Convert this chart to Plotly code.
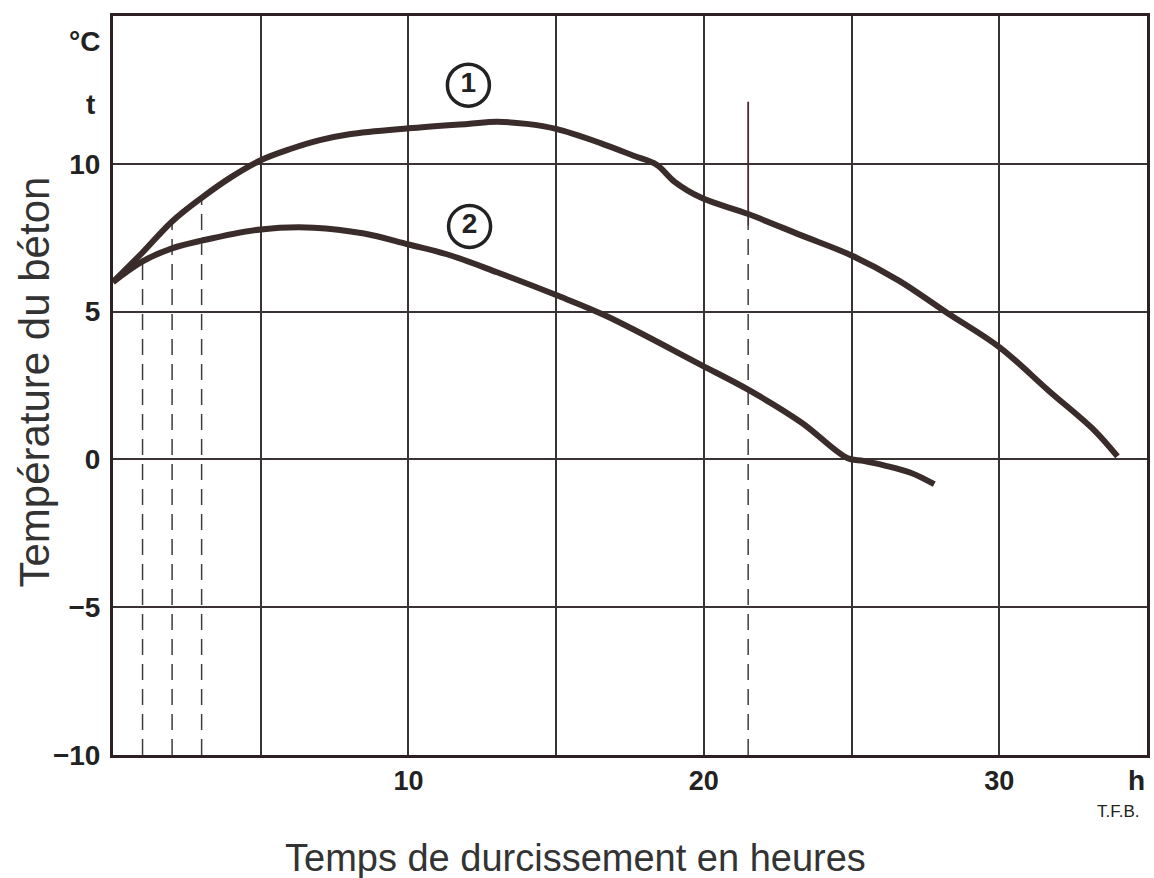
import plotly.graph_objects as go

# ---- data ----
curve1_x = [0, 1, 2, 3, 4, 5, 6, 7, 8, 10, 12, 13, 14, 15, 16.5, 17.6, 18.4, 19.0, 19.9, 21.5, 23.3, 25, 26.6, 28.2, 30, 31.7, 33.2, 34.0]
curve1_y = [6.0, 7.0, 8.05, 8.85, 9.55, 10.12, 10.5, 10.8, 11.0, 11.2, 11.35, 11.42, 11.35, 11.18, 10.7, 10.28, 9.97, 9.4, 8.86, 8.3, 7.58, 6.9, 6.05, 4.98, 3.8, 2.3, 1.0, 0.1]

curve2_x = [0, 1, 2, 3, 5, 6.8, 8.5, 10, 11.3, 13, 15, 16.7, 19.9, 21.5, 23.3, 24.85, 25.4, 26.1, 27.0, 27.8]
curve2_y = [6.0, 6.7, 7.14, 7.4, 7.78, 7.84, 7.64, 7.27, 6.94, 6.33, 5.56, 4.85, 3.2, 2.36, 1.25, 0.05, -0.05, -0.2, -0.45, -0.84]

guide_x = [1, 2, 3, 21.5]
guide_top = [6.75, 8.0, 8.75, 7.9]
marker_x = 21.5
marker_range = [7.9, 12.1]

label_x = [12.03, 12.07]
label_y = [12.66, 7.88]
label_text = ["1", "2"]

x_ticks = [0, 5, 10, 15, 20, 25, 30, 35]
x_ticktext = ["", "", "10", "", "20", "", "30", ""]
y_ticks = [-10, -5, 0, 5, 10]
y_ticktext = ["\u221210", "\u22125", "0", "5", "10"]

INK = "#3a2c2a"
GRID = "#3a3334"
FONT = "Liberation Sans"

fig = go.Figure()

# dashed guide lines
for gx, gt in zip(guide_x, guide_top):
    fig.add_trace(go.Scatter(x=[gx, gx], y=[-10, gt], mode="lines",
                             line=dict(color="#3d3d3d", width=1.5, dash="16px,9px"),
                             hoverinfo="skip", showlegend=False))
# solid marker part at 21.5 h
fig.add_trace(go.Scatter(x=[marker_x, marker_x], y=marker_range, mode="lines",
                         line=dict(color="#4a2a35", width=1.8),
                         hoverinfo="skip", showlegend=False))

# curves
fig.add_trace(go.Scatter(x=curve1_x, y=curve1_y, mode="lines",
                         line=dict(color=INK, width=6, shape="spline", smoothing=1.0),
                         showlegend=False, name="1"))
fig.add_trace(go.Scatter(x=curve2_x, y=curve2_y, mode="lines",
                         line=dict(color=INK, width=6, shape="spline", smoothing=1.0),
                         showlegend=False, name="2"))

# circled labels
fig.add_trace(go.Scatter(x=label_x, y=label_y, mode="markers+text", text=label_text,
                         textposition="middle center",
                         textfont=dict(family=FONT, size=28, color="#222", weight="bold"),
                         marker=dict(symbol="circle-open", size=42, color="#222",
                                     line=dict(width=3.5, color="#222")),
                         hoverinfo="skip", showlegend=False))

fig.update_layout(
    width=1154, height=878,
    margin=dict(l=113, r=7, t=16, b=123),
    paper_bgcolor="white", plot_bgcolor="white",
    font=dict(family=FONT, color="#222"),
)

fig.update_xaxes(range=[0, 35], tickvals=x_ticks, ticktext=x_ticktext,
                 showgrid=True, gridcolor=GRID, gridwidth=2,
                 showline=True, linecolor="#2e1f22", linewidth=3, mirror=True,
                 zeroline=False, ticks="", ticklabelstandoff=0, automargin=False,
                 tickfont=dict(family=FONT, size=27, color="#222", weight="bold"))
fig.update_yaxes(range=[-10, 15], tickvals=y_ticks, ticktext=y_ticktext,
                 showgrid=True, gridcolor=GRID, gridwidth=2,
                 showline=True, linecolor="#2e1f22", linewidth=3, mirror=True,
                 zeroline=False, ticks="", ticklabelstandoff=4, automargin=False,
                 tickfont=dict(family=FONT, size=28, color="#222", weight="bold"))

def note(text, xref, x, yref, y, size, bold=False, angle=0, color="#222", xanchor="center"):
    f = dict(family=FONT, size=size, color=color)
    if bold:
        f["weight"] = "bold"
    fig.add_annotation(text=text, xref=xref, x=x, yref=yref, y=y, showarrow=False,
                       xanchor=xanchor, yanchor="middle", textangle=angle, font=f)

note("°C", "paper", -0.0271, "y", 14.14, 28, bold=True)
note("t", "paper", -0.0222, "y", 12.02, 28, bold=True)
note("h", "x", 35, "paper", -0.034, 28, bold=True, xanchor="right")
note("T.F.B.", "x", 34.03, "paper", -0.0771, 17)
note("Temps de durcissement en heures", "x", 15.65, "paper", -0.1394, 38, color="#333")
note("Température du béton", "paper", -0.0754, "y", 2.6, 42, angle=-90, color="#333")

fig.write_html("out.html", config={"displayModeBar": False},
               post_script="document.body.style.margin='0px';")
